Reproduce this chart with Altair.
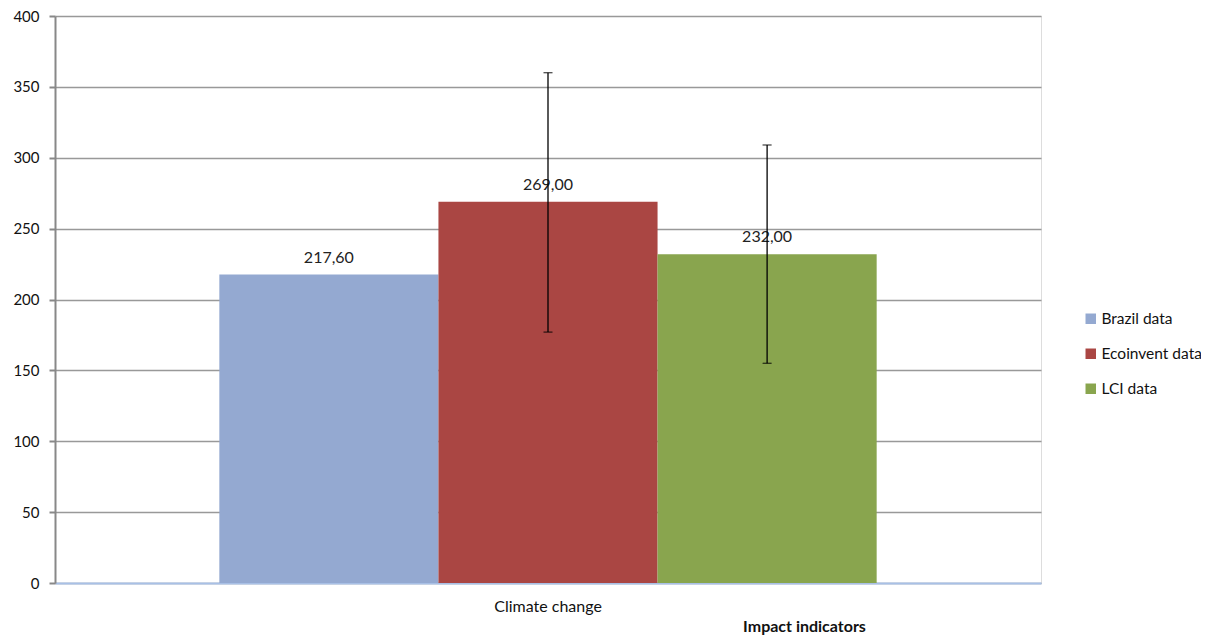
import altair as alt
import pandas as pd

categories = ["Climate change"]
series = ["Brazil data", "Ecoinvent data", "LCI data"]
values = [217.6, 269.0, 232.0]
labels = ["217,60", "269,00", "232,00"]
err_low = [None, 177.0, 155.0]
err_high = [None, 360.0, 309.0]
colors = ["#94A9D1", "#AA4643", "#89A54E"]

df = pd.DataFrame({
    "category": categories * 3,
    "series": series,
    "value": values,
    "label": labels,
    "low": err_low,
    "high": err_high,
})
err_df = df.dropna(subset=["low"])

FONT = "Lato"

x_enc = alt.X("category:N", title="Impact indicators",
              scale=alt.Scale(paddingInner=0, paddingOuter=0.25),
              axis=alt.Axis(labelAngle=0, ticks=False, labelPadding=15, labelFontSize=16,
                            labelColor="#111", domainColor="#A8C0E6", domainWidth=2,
                            titleX=749, titleY=43, titleBaseline="middle", titleAlign="center",
                            titleFontSize=16, titleFontWeight="bold", titleColor="#111"))
xoff = alt.XOffset("series:N", sort=series, scale=alt.Scale(paddingInner=0, paddingOuter=0))
y_scale = alt.Scale(domain=[0, 400], nice=False)

bars = alt.Chart(df).mark_bar().encode(
    x=x_enc,
    xOffset=xoff,
    y=alt.Y("value:Q", scale=y_scale, title=None,
            axis=alt.Axis(values=list(range(0, 401, 50)), tickSize=6, labelPadding=10,
                          labelFontSize=15, labelColor="#111", domainColor="#888",
                          domainWidth=2, tickColor="#888", tickWidth=2,
                          gridColor="#999", gridWidth=1.5)),
    color=alt.Color("series:N", sort=series,
                    scale=alt.Scale(domain=series, range=colors),
                    legend=alt.Legend(title=None, orient="none", legendX=1028, legendY=295,
                                      symbolType="square", symbolSize=110, symbolStrokeWidth=0,
                                      labelFontSize=15.5, labelColor="#111", rowPadding=18,
                                      labelOffset=3)),
)

text = alt.Chart(df).mark_text(baseline="bottom", dy=-9, fontSize=16, color="#222", font=FONT).encode(
    x=alt.X("category:N"),
    xOffset=xoff,
    y=alt.Y("value:Q", scale=y_scale),
    text="label:N",
)

rules = alt.Chart(err_df).mark_rule(color="#000", strokeWidth=1.3).encode(
    x=alt.X("category:N"),
    xOffset=xoff,
    y=alt.Y("low:Q", scale=y_scale),
    y2="high:Q",
)
cap_lo = alt.Chart(err_df).mark_tick(color="#000", thickness=1.3, size=9, orient="horizontal").encode(
    x=alt.X("category:N"),
    xOffset=xoff,
    y=alt.Y("low:Q", scale=y_scale),
)
cap_hi = alt.Chart(err_df).mark_tick(color="#000", thickness=1.3, size=9, orient="horizontal").encode(
    x=alt.X("category:N"),
    xOffset=xoff,
    y=alt.Y("high:Q", scale=y_scale),
)

chart = (bars + text + rules + cap_lo + cap_hi).properties(
    width=986, height=567,
    autosize=alt.AutoSizeParams(type="none"),
    padding={"left": 47, "top": 8, "right": 160, "bottom": 52},
).configure_view(stroke="#A8C0E6", strokeWidth=2.5).configure(font=FONT)

chart.save("out.html", embed_options={"renderer": "svg", "actions": False})
